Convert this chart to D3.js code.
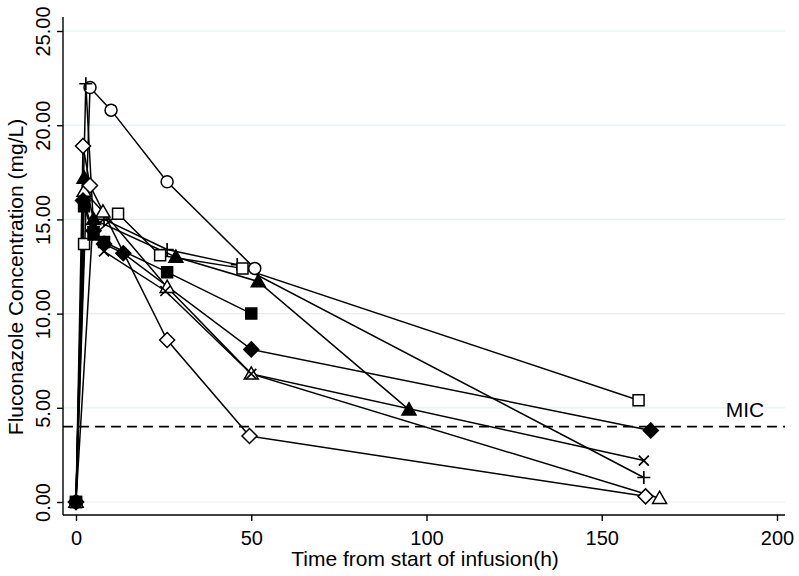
<!DOCTYPE html>
<html>
<head>
<meta charset="utf-8">
<script src="https://cdn.jsdelivr.net/npm/d3@7"></script>
<style>
  body { margin: 0; background: #fff; }
  text { font-family: "Liberation Sans", Arial, sans-serif; fill: #000; }
</style>
</head>
<body>
<script>
// time (h), concentration (mg/L) per patient
const circleHollow  = [[0,0],[4,22.0],[10,20.8],[26,17.0],[51,12.4]];
const plusSeries    = [[0,0],[2.8,22.2],[5,14.6],[8,15.0],[26,13.4],[46,12.6],[162,1.3]];
const squareHollow  = [[0,0],[2.3,13.7],[12,15.3],[24,13.1],[47.5,12.4],[160.5,5.4]];
const squareFilled  = [[0,0],[2.3,15.7],[5,14.2],[8,13.8],[26,12.2],[50,10.0]];
const triFilled     = [[0,0],[2.3,17.2],[5,15.0],[28.5,13.0],[52,11.7],[95,4.9]];
const triHollow     = [[0,0],[2.3,16.5],[7.7,15.4],[26,11.4],[50,6.8],[166.5,0.2]];
const diamondHollow = [[0,0],[2,18.9],[4,16.8],[26,8.6],[49.5,3.5],[162.5,0.3]];
const diamondFilled = [[0,0],[2,16.0],[5,14.4],[8,13.7],[13.5,13.2],[50,8.1],[164,3.8]];
const crossSeries   = [[0,0],[4.8,14.8],[8,13.3],[25.5,11.2],[50,6.8],[162,2.2]];

const xTicks = [0, 50, 100, 150, 200];
const yTicks = [0, 5, 10, 15, 20, 25];
const mic = 4.0;

const series = [
  {data: circleHollow,  shape: "circle",   fill: "white"},
  {data: plusSeries,    shape: "plus",     fill: "none"},
  {data: squareHollow,  shape: "square",   fill: "white"},
  {data: squareFilled,  shape: "square",   fill: "black"},
  {data: triFilled,     shape: "triangle", fill: "black"},
  {data: triHollow,     shape: "triangle", fill: "white"},
  {data: diamondHollow, shape: "diamond",  fill: "white"},
  {data: diamondFilled, shape: "diamond",  fill: "black"},
  {data: crossSeries,   shape: "cross",    fill: "none"}
];

const w = 799, h = 576;
const plotL = 63, plotR = 785, plotT = 17, plotB = 515;

const svg = d3.select("body").append("svg")
  .attr("width", w)
  .attr("height", h);

const x = d3.scaleLinear().domain([0, 200]).range([76, 777]);
const y = d3.scaleLinear().domain([0, 25]).range([502, 31]);

// grid
svg.selectAll("line.grid")
  .data(yTicks)
  .enter()
  .append("line")
  .attr("class", "grid")
  .attr("x1", plotL).attr("x2", plotR)
  .attr("y1", d => y(d)).attr("y2", d => y(d))
  .attr("stroke", "#e6eff0")
  .attr("stroke-width", 1.2);

// axes
const xAxis = svg.append("g")
  .attr("transform", "translate(0," + plotB + ")")
  .call(d3.axisBottom(x).tickValues(xTicks).tickSize(6).tickSizeOuter(0).tickFormat(d3.format("d")));
xAxis.select(".domain").remove();
xAxis.append("line").attr("x1", plotL).attr("x2", plotR).attr("stroke", "black").attr("stroke-width", 1.4);
xAxis.selectAll(".tick line").attr("stroke-width", 1.4);
xAxis.selectAll(".tick text")
  .attr("dy", 0).attr("y", 30)
  .style("font-size", "20px")
  .style("font-family", "Liberation Sans, Arial, sans-serif");

const yAxis = svg.append("g")
  .attr("transform", "translate(" + plotL + ",0)")
  .call(d3.axisLeft(y).tickValues(yTicks).tickSize(6).tickSizeOuter(0).tickFormat(d3.format(".2f")));
yAxis.select(".domain").remove();
yAxis.append("line").attr("y1", plotT).attr("y2", plotB).attr("stroke", "black").attr("stroke-width", 1.4);
yAxis.selectAll(".tick line").attr("stroke-width", 1.4);
yAxis.selectAll(".tick text")
  .attr("x", null).attr("dy", null)
  .attr("transform", "translate(-13,0) rotate(-90)")
  .attr("text-anchor", "middle")
  .style("font-size", "20px")
  .style("font-family", "Liberation Sans, Arial, sans-serif");

// axis titles
svg.append("text")
  .attr("x", 425)
  .attr("y", 566)
  .attr("text-anchor", "middle")
  .style("font-size", "21px")
  .text("Time from start of infusion(h)");

svg.append("text")
  .attr("transform", "translate(23,277) rotate(-90)")
  .attr("text-anchor", "middle")
  .style("font-size", "21px")
  .text("Fluconazole Concentration (mg/L)");

// MIC line
svg.append("line")
  .attr("x1", plotL).attr("x2", plotR)
  .attr("y1", y(mic)).attr("y2", y(mic))
  .attr("stroke", "black")
  .attr("stroke-width", 1.6)
  .attr("stroke-dasharray", "10,6");

svg.append("text")
  .attr("x", 745)
  .attr("y", y(mic) - 10)
  .attr("text-anchor", "middle")
  .style("font-size", "21px")
  .text("MIC");

// lines
const line = d3.line().x(d => x(d[0])).y(d => y(d[1]));

svg.selectAll("path.series")
  .data(series)
  .enter()
  .append("path")
  .attr("class", "series")
  .attr("d", d => line(d.data))
  .attr("fill", "none")
  .attr("stroke", "black")
  .attr("stroke-width", 1.5);

// markers
function markerPath(shape) {
  if (shape === "square") return "M-5.5,-5.5H5.5V5.5H-5.5Z";
  if (shape === "triangle") return "M0,-7L7,5.2H-7Z";
  if (shape === "diamond") return "M0,-7.5L7.5,0L0,7.5L-7.5,0Z";
  if (shape === "plus") return "M-6.5,0H6.5M0,-6.5V6.5";
  if (shape === "cross") return "M-5,-5L5,5M-5,5L5,-5";
  return null;
}

series.forEach(s => {
  const g = svg.append("g");
  const pts = g.selectAll("g")
    .data(s.data)
    .enter()
    .append("g")
    .attr("transform", d => "translate(" + x(d[0]) + "," + y(d[1]) + ")");
  if (s.shape === "circle") {
    pts.append("circle").attr("r", 6)
      .attr("fill", s.fill).attr("stroke", "black").attr("stroke-width", 1.5);
  } else {
    pts.append("path").attr("d", markerPath(s.shape))
      .attr("fill", s.fill).attr("stroke", "black")
      .attr("stroke-width", (s.shape === "plus" || s.shape === "cross") ? 1.7 : 1.5);
  }
});
</script>
</body>
</html>
